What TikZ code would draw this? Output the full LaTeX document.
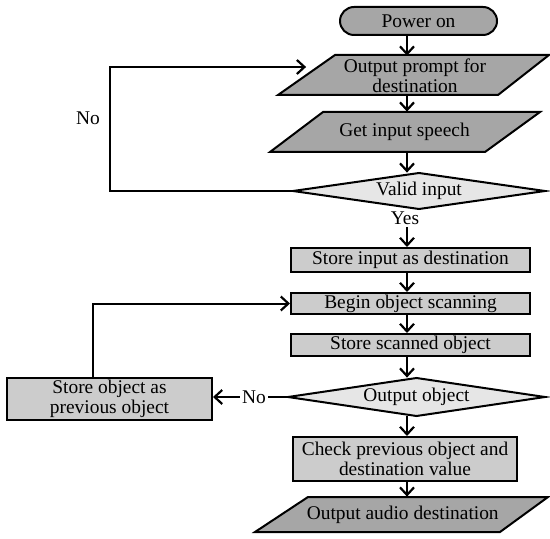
\documentclass[tikz,border=0pt]{standalone}
\usepackage{fontspec}
\setmainfont{Liberation Serif}
\usetikzlibrary{arrows.meta}
\definecolor{dk}{RGB}{166,166,166}
\definecolor{md}{RGB}{204,204,204}
\definecolor{lt}{RGB}{230,230,230}
\begin{document}
\begin{tikzpicture}[x=0.5pt,y=-0.5pt,
  every node/.style={font=\fontsize{9.7}{10}\selectfont, align=center, inner sep=0pt},
  sz/.style 2 args={minimum width=#1*0.5pt, minimum height=#2*0.5pt},
  ln/.style={line width=1pt},
  arr/.style={ln, -{Straight Barb[length=3.8pt,width=7pt,line width=1.1pt]}},
  procbox/.style={draw, ln, fill=md},
  parashape/.style={draw, ln, fill=dk, line join=miter},
  diashape/.style={draw, ln, fill=lt, line join=miter},
  lbl/.style={inner sep=1pt}
]
\useasboundingbox (0,0) rectangle (550,539);
\coordinate (axis) at (407,0);

% Power on
\node[draw, ln, fill=dk, rounded corners=7pt, sz={157}{28}] (po) at (418.5,21) {Power on};

% Output prompt
\filldraw[parashape] (335,55) -- (549,55) -- (498,95) -- (278,95) -- cycle;
\node[sz={217}{40}] (op) at (415,76) {Output prompt for\\destination};

% Get input speech
\filldraw[parashape] (323,112) -- (540,112) -- (485,152) -- (270,152) -- cycle;
\node[sz={216}{40}] (gi) at (404.5,132) {Get input speech};

% Valid input
\filldraw[diashape] (293,191) -- (419,173) -- (545,191) -- (419,209) -- cycle;
\node[sz={252}{36}] (vi) at (419,191) {Valid input};
\node[lbl] (yes) at (405,218) {Yes};

% Store boxes
\node[procbox, sz={239}{24}] (si) at (410.5,260) {Store input as destination};
\node[procbox, sz={239}{21}] (bo) at (410.5,303.5) {Begin object scanning};
\node[procbox, sz={239}{22}] (ss) at (410.5,345) {Store scanned object};

% Output object
\filldraw[diashape] (288,397) -- (416.5,378) -- (545,397) -- (416.5,416) -- cycle;
\node[sz={257}{38}] (oo) at (416.5,397) {Output object};

\node[procbox, sz={205}{42}] (sp) at (109.5,399) {Store object as\\previous object};
\node[procbox, sz={224}{44}] (ck) at (405,459) {Check previous object and\\destination value};

% Output audio
\filldraw[parashape] (308,497) -- (548,497) -- (500,532) -- (255,532) -- cycle;
\node[sz={242.5}{35}] (oa) at (402.75,514.5) {Output audio destination};

% main flow
\draw[arr] (po.south -| axis) -- (op.north -| axis);
\draw[arr] (op.south -| axis) -- (gi.north -| axis);
\draw[arr] (gi.south -| axis) -- (vi.north -| axis);
\draw[arr] (yes.south -| axis) -- (si.north -| axis);
\draw[arr] (si.south -| axis) -- (bo.north -| axis);
\draw[arr] (bo.south -| axis) -- (ss.north -| axis);
\draw[arr] (ss.south -| axis) -- (oo.north -| axis);
\draw[arr] (oo.south -| axis) -- (ck.north -| axis);
\draw[arr] (ck.south -| axis) -- (oa.north -| axis);

% No loop 1
\coordinate (nl) at (110,67);
\draw[arr] (vi.west) -| (nl) -- (op.west |- nl);
\node[lbl] (no1) at (88,118) {No};

% No branch 2
\node[lbl] (no2) at (254,397) {No};
\draw[ln] (oo.west) -- (no2.east);
\draw[arr] (no2.west) -- (sp.east |- no2.west);
\draw[arr] (sp.north) ++(-16.5,0) |- (bo.west);
\end{tikzpicture}
\end{document}
